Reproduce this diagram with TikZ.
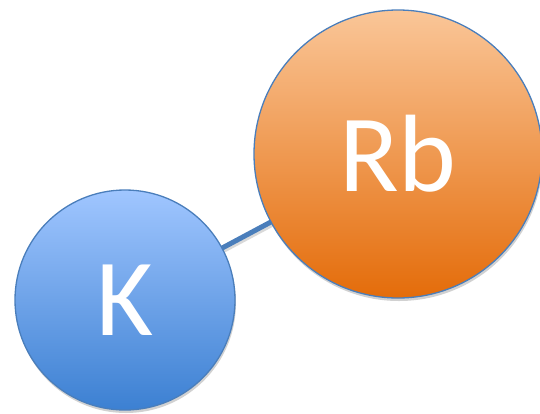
\documentclass[tikz,border=0pt]{standalone}
\usepackage{fontspec}
\setmainfont{Carlito}
\usetikzlibrary{shadows}
\definecolor{kTop}{RGB}{160,198,255}
\definecolor{kBot}{RGB}{60,128,210}
\definecolor{rTop}{RGB}{250,198,152}
\definecolor{rBot}{RGB}{228,108,10}
\definecolor{edgeBlue}{RGB}{74,126,187}
\tikzset{
  atom/.style={circle, draw=edgeBlue, line width=1.3pt, inner sep=0pt,
    text=white, font=\fontsize{110}{110}\selectfont,
    drop shadow={shadow xshift=1pt, shadow yshift=-3pt, opacity=0.18, fill=black}},
  bond/.style={draw=edgeBlue, line width=5pt}
}
\begin{document}
\begin{tikzpicture}[x=1pt,y=-1pt]
\useasboundingbox (0,0) rectangle (540,413);
\coordinate (kc) at (125,300);
\coordinate (rc) at (398,154);
\draw[bond, black!15, line width=5pt] ([yshift=-3pt]kc) -- ([yshift=-3pt]rc);
\draw[bond] (kc) -- (rc);
\node[atom, minimum size=220pt, top color=kTop, bottom color=kBot] (K) at (kc) {K};
\node[atom, minimum size=288pt, top color=rTop, bottom color=rBot] (Rb) at (rc) {Rb};
\end{tikzpicture}
\end{document}
